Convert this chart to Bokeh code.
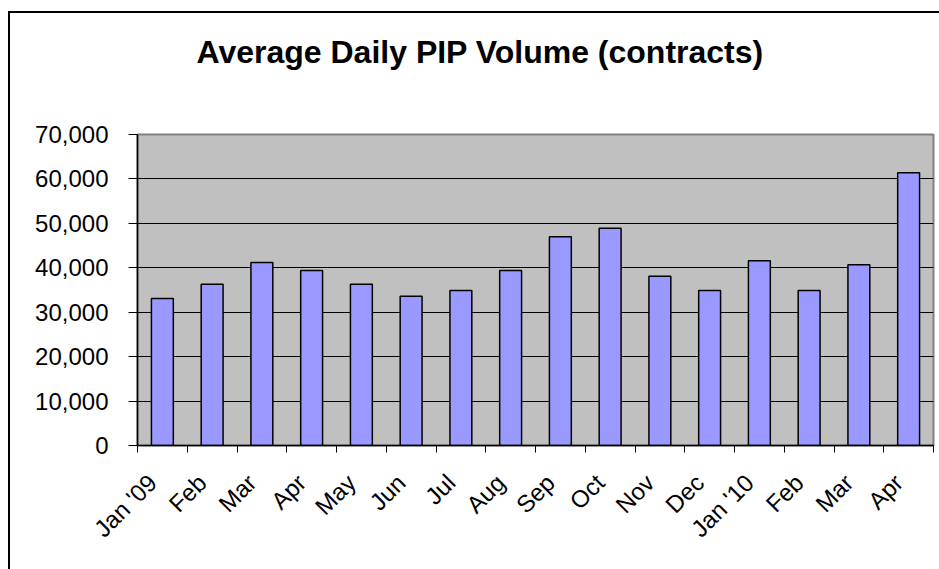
import math
from bokeh.plotting import figure
from bokeh.models import FixedTicker, NumeralTickFormatter, Range1d, InlineStyleSheet, Title
from bokeh.embed import file_html
from bokeh.resources import INLINE

# ---- data ----
months = ["Jan '09", "Feb", "Mar", "Apr", "May", "Jun", "Jul", "Aug",
          "Sep", "Oct", "Nov", "Dec", "Jan '10", "Feb", "Mar", "Apr"]
volumes = [33100, 36300, 41200, 39400, 36300, 33600, 34900, 39400,
           47000, 48900, 38100, 34900, 41600, 34900, 40700, 61400]
y_ticks = [0, 10000, 20000, 30000, 40000, 50000, 60000, 70000]
title_text = "Average Daily PIP Volume (contracts)"

n = len(months)
centers = [i + 0.5 for i in range(n)]
bounds = list(range(n + 1))
label_shift = 0.2          # rotated labels end slightly left of the category centre
label_pos = [c - label_shift for c in centers]

FONT = "Liberation Sans"

p = figure(width=939, height=569,
           x_range=Range1d(0, n), y_range=Range1d(y_ticks[0], y_ticks[-1]),
           output_backend="svg", toolbar_location=None,
           min_border_left=137, min_border_right=6,
           min_border_top=134, min_border_bottom=124)

p.vbar(x=centers, top=volumes, width=0.44, fill_color="#9999ff",
       line_color="black", line_width=1.5)

p.background_fill_color = "#c0c0c0"
p.border_fill_color = "white"
p.outline_line_color = "#808080"
p.outline_line_width = 2

# outer chart border: only its top and left edges fall inside the picture
p.css_classes = ["xframe"]
p.stylesheets = [InlineStyleSheet(css="""
:host(.xframe) { position: relative; overflow: hidden; }
:host(.xframe)::before, :host(.xframe)::after {
  content: "";
  position: absolute;
  border: none; outline: none; box-shadow: none;
  background: #000;
  pointer-events: none; z-index: 10;
}
:host(.xframe)::before { left: 8px; top: 11px; width: 2px; height: 600px; }
:host(.xframe)::after  { left: 8px; top: 11px; width: 1000px; height: 2px; }
""")]

# main title (outermost panel above the plot)
p.title.text = title_text
p.title.text_font = FONT
p.title.text_font_size = "32px"
p.title.text_font_style = "bold"
p.title.text_color = "black"
p.title.align = "left"
p.title.offset = 59
p.title.standoff = 62

# spacer panel between the title and the plot area
spacer = Title(text=" ", text_font_size="20px", standoff=10)
p.add_layout(spacer, "above")

# x axis
xa = p.xaxis[0]
xa.ticker = FixedTicker(ticks=label_pos, minor_ticks=bounds)
xa.major_label_overrides = {c: m for c, m in zip(label_pos, months)}
xa.major_tick_line_color = None
xa.major_tick_out = 7
xa.major_tick_in = 0
xa.minor_tick_line_color = "black"
xa.minor_tick_out = 7
xa.minor_tick_in = 0
xa.major_label_orientation = math.pi / 4
xa.major_label_standoff = 26
xa.major_label_text_font = FONT
xa.major_label_text_font_size = "24px"
xa.major_label_text_color = "black"
xa.axis_line_color = "black"
xa.axis_line_width = 1.5

# y axis
ya = p.yaxis[0]
ya.ticker = FixedTicker(ticks=y_ticks)
ya.formatter = NumeralTickFormatter(format="0,0")
ya.major_tick_out = 9
ya.major_tick_in = 0
ya.minor_tick_line_color = None
ya.major_label_standoff = 20
ya.major_label_text_font = FONT
ya.major_label_text_font_size = "24px"
ya.major_label_text_color = "black"
ya.axis_line_color = "black"
ya.axis_line_width = 1.5

p.xgrid.visible = False
p.ygrid.ticker = FixedTicker(ticks=y_ticks)
p.ygrid.grid_line_color = "black"
p.ygrid.grid_line_width = 1

open("out.html", "w").write(file_html(p, INLINE))
